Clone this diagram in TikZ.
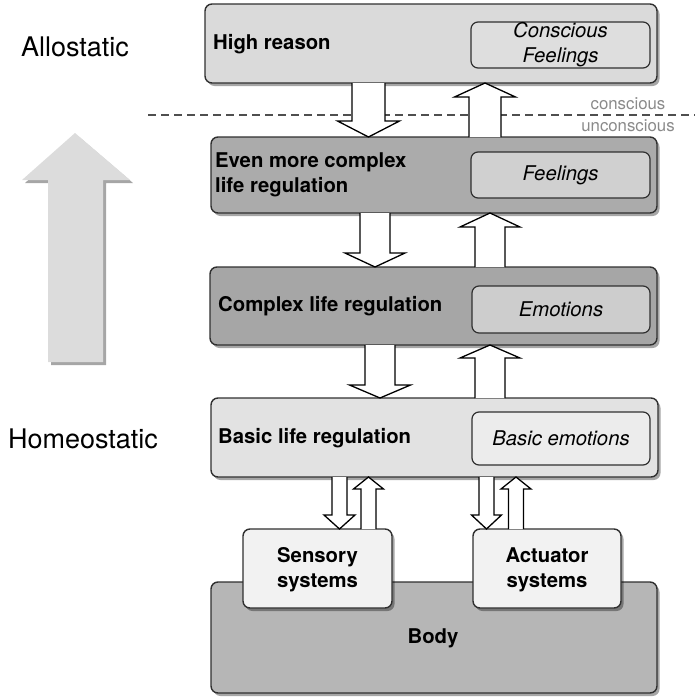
\documentclass[tikz,border=0pt]{standalone}
\usepackage{fontspec}
\setmainfont{TeX Gyre Heros}
\usetikzlibrary{shadows,calc}
\definecolor{cHR}{HTML}{DADADA}
\definecolor{cHRin}{HTML}{DEDEDE}
\definecolor{cEMC}{HTML}{ABABAB}
\definecolor{cEMCin}{HTML}{D0D0D0}
\definecolor{cCLR}{HTML}{A6A6A6}
\definecolor{cCLRin}{HTML}{CDCDCD}
\definecolor{cBLR}{HTML}{E2E2E2}
\definecolor{cBLRin}{HTML}{ECECEC}
\definecolor{cBody}{HTML}{B6B6B6}
\definecolor{cSys}{HTML}{F2F2F2}
\definecolor{cLine}{HTML}{303030}
\definecolor{cBig}{HTML}{DCDCDC}
\definecolor{cSmall}{HTML}{8A8A8A}
\newcommand\blkdown[6]{%
  \coordinate (bdT) at (#1,0 |- #2.south);
  \coordinate (bdB) at (#1,0 |- #3.north);
  \draw[blk] ($(bdT)+(-#4,0)$) -- ($(bdB)+(-#4,-#6)$) -- ($(bdB)+(-#5,-#6)$) -- (bdB)
    -- ($(bdB)+(#5,-#6)$) -- ($(bdB)+(#4,-#6)$) -- ($(bdT)+(#4,0)$);}
\newcommand\blkup[6]{%
  \coordinate (buT) at (#1,0 |- #2.south);
  \coordinate (buB) at (#1,0 |- #3.north);
  \draw[blk] ($(buB)+(-#4,0)$) -- ($(buT)+(-#4,#6)$) -- ($(buT)+(-#5,#6)$) -- (buT)
    -- ($(buT)+(#5,#6)$) -- ($(buT)+(#4,#6)$) -- ($(buB)+(#4,0)$);}
\tikzset{
  box/.style={draw=cLine, line width=1.4pt, rounded corners=7pt, outer sep=0pt, inner sep=0pt,
    drop shadow={shadow xshift=2.5pt, shadow yshift=-3pt, opacity=0.35, fill=black}},
  inbox/.style={draw=cLine, line width=1.2pt, rounded corners=7pt, outer sep=0pt, inner sep=0pt},
  lbl/.style={font=\fontsize{20.3}{25}\selectfont\bfseries, anchor=west, align=left, inner sep=0pt},
  clbl/.style={font=\fontsize{20.3}{25}\selectfont\bfseries, align=center, inner sep=0pt},
  ilbl/.style={font=\fontsize{20.3}{25}\selectfont\itshape, align=center, inner sep=0pt},
  side/.style={font=\fontsize{27}{30}\selectfont, inner sep=0pt},
  blk/.style={draw=black, fill=white, line width=1.3pt, line join=miter},
  small/.style={font=\fontsize{16.8}{20}\selectfont, text=cSmall, inner sep=0pt},
}
\begin{document}
\begin{tikzpicture}[x=1pt,y=-1pt]
\useasboundingbox (0,0) rectangle (695,699);
% left labels and big arrow
\node[side] (allo) at (75,47) {Allostatic};
\node[side] (homeo) at (83,439) {Homeostatic};
\fill[cBig, drop shadow={shadow xshift=3pt, shadow yshift=-3pt, opacity=0.35, fill=black}]
  (48,362) -- (48,180) -- (22,180) -- (75,133) -- (130,180) -- (103,180) -- (103,362) -- cycle;
% dashed line
\coordinate (dashL) at (148,115);
\coordinate (dashR) at (695,115);
\draw[cLine!85, line width=1.2pt, dash pattern=on 8pt off 5pt] (dashL) -- (dashR);
\node[small] (consc) at (628,104) {conscious};
\node[small] (uncon) at (628,126) {unconscious};
% level boxes
\node[box, fill=cHR, minimum width=452, minimum height=79] (hr) at (431,43.5) {};
\node[inbox, fill=cHRin, minimum width=179, minimum height=46] (cf) at (560.5,45) {};
\node[box, fill=cEMC, minimum width=446, minimum height=76] (emc) at (434,175) {};
\node[inbox, fill=cEMCin, minimum width=179, minimum height=46] (fe) at (560.5,175) {};
\node[box, fill=cCLR, minimum width=447, minimum height=78] (clr) at (433.5,306) {};
\node[inbox, fill=cCLRin, minimum width=178, minimum height=47] (emo) at (561,309.5) {};
\node[box, fill=cBLR, minimum width=447, minimum height=79] (blr) at (434.5,437.5) {};
\node[inbox, fill=cBLRin, minimum width=178, minimum height=53] (bem) at (561,438.5) {};
\node[box, fill=cBody, minimum width=446, minimum height=111] (body) at (434,637.5) {};
\node[box, fill=cSys, minimum width=149, minimum height=79] (sens) at (317.5,568.5) {};
\node[box, fill=cSys, minimum width=148, minimum height=79] (act) at (547,568.5) {};
% texts
\node[lbl] (thr) at (213,44) {High reason};
\node[ilbl] (tcf) at (cf) {Conscious\\Feelings};
\node[lbl] (temc) at (215,175) {Even more complex\\life regulation};
\node[ilbl] (tfe) at (fe) {Feelings};
\node[lbl] (tclr) at (218,306) {Complex life regulation};
\node[ilbl] (temo) at (emo) {Emotions};
\node[lbl] (tblr) at (218,438) {Basic life regulation};
\node[ilbl] (tbem) at (bem) {Basic emotions};
\node[clbl] (tsens) at (317.5,570) {Sensory\\systems};
\node[clbl] (tact) at (547,570) {Actuator\\systems};
\node[clbl] (tbody) at (433,638) {Body};
% block arrows between levels
\blkdown{368.5}{hr}{emc}{16.5}{31}{16}
\blkup{485}{hr}{emc}{16}{30.5}{14}
\blkdown{375}{emc}{clr}{15}{30}{14}
\blkup{490}{emc}{clr}{15}{30}{14}
\blkdown{380}{clr}{blr}{15}{30.5}{13}
\blkup{490}{clr}{blr}{15}{30}{13}
% small arrows to systems
\blkdown{339.5}{blr}{sens}{7.5}{15.5}{14}
\blkup{368.5}{blr}{sens}{7.5}{15}{12}
\blkdown{486.5}{blr}{act}{7.5}{15}{14}
\blkup{516}{blr}{act}{7.5}{15}{12}
\end{tikzpicture}
\end{document}
